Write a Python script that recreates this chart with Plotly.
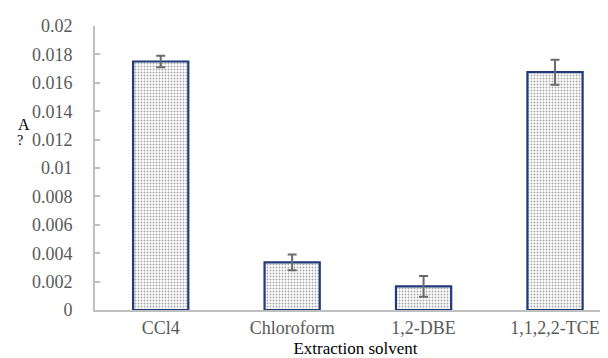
import plotly.graph_objects as go

categories = ["CCl4", "Chloroform", "1,2-DBE", "1,1,2,2-TCE"]
values = [0.0175, 0.00335, 0.00167, 0.01675]
errors = [0.0004, 0.00055, 0.00073, 0.00088]
ytick_vals = [0, 0.002, 0.004, 0.006, 0.008, 0.01, 0.012, 0.014, 0.016, 0.018, 0.02]
ytick_text = ["0", "0.002", "0.004", "0.006", "0.008", "0.01", "0.012", "0.014", "0.016", "0.018", "0.02"]

font_family = "Liberation Serif"

fig = go.Figure()
fig.add_trace(go.Bar(
    x=categories, y=values, width=0.42,
    marker=dict(
        color="white",
        line=dict(color="#1F3A78", width=2.2),
        pattern=dict(shape=".", fgcolor="#555555", bgcolor="white", size=3, solidity=0.35),
    ),
    error_y=dict(type="data", array=errors, visible=True, color="#6a6a6a", thickness=2, width=4.5),
))

plot_w = 608 - 87
plot_h = 358 - 18 - 56

def px_to_paper(px, py):
    return (px - 87) / plot_w, (358 - 56 - py) / plot_h

ax, ay = px_to_paper(16, 116)
qx, qy = px_to_paper(12, 132)

fig.update_layout(
    width=608, height=358,
    margin=dict(l=87, r=0, t=18, b=56),
    paper_bgcolor="white", plot_bgcolor="white",
    showlegend=False,
    font=dict(family=font_family, size=18, color="#595959"),
    xaxis=dict(
        type="category", range=[-0.5, 3.464],
        showline=True, linecolor="#BFBFBF", linewidth=2,
        ticks="", showgrid=False, zeroline=False,
        tickfont=dict(family=font_family, size=18, color="#595959"),
        title=dict(text="Extraction solvent", font=dict(family=font_family, size=17, color="black"), standoff=6),
    ),
    yaxis=dict(
        range=[0, 0.02], tickvals=ytick_vals, ticktext=ytick_text,
        showline=True, linecolor="#BFBFBF", linewidth=2,
        ticks="inside", ticklen=5, tickcolor="#BFBFBF", tickwidth=1.5,
        ticklabelstandoff=17,
        showgrid=False, zeroline=False,
        tickfont=dict(family=font_family, size=18, color="#595959"),
    ),
    annotations=[
        dict(text="A", x=ax, y=ay, xref="paper", yref="paper", showarrow=False,
             xanchor="center", yanchor="middle",
             font=dict(size=16, color="black", family=font_family)),
        dict(text="?", x=qx, y=qy, xref="paper", yref="paper", showarrow=False,
             xanchor="center", yanchor="middle",
             font=dict(size=14, color="black", family=font_family)),
    ],
)

fig.write_html("out.html")
